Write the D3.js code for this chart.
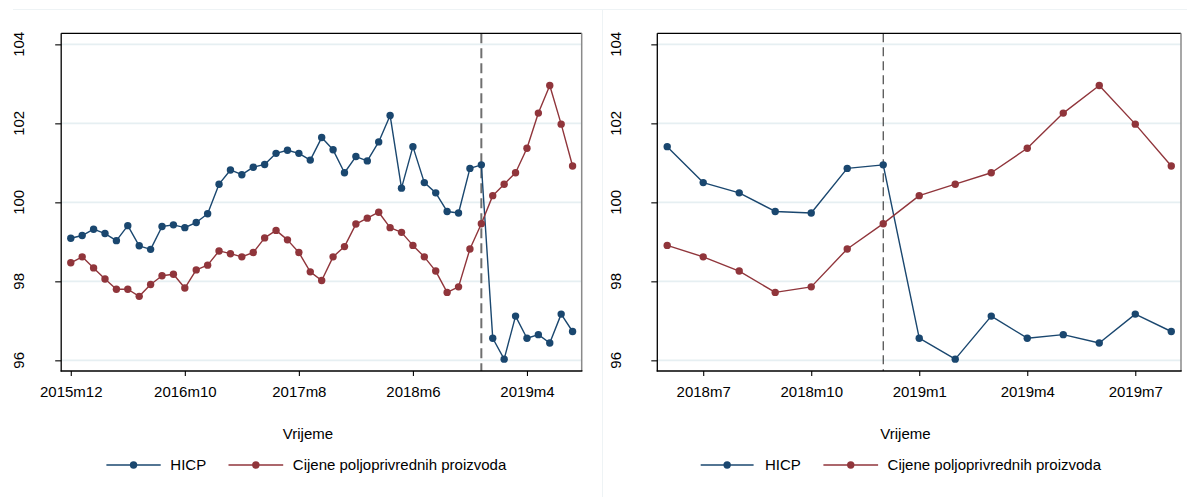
<!DOCTYPE html>
<html>
<head>
<meta charset="utf-8">
<script src="https://cdn.jsdelivr.net/npm/d3@7"></script>
<style>
  html, body { margin: 0; padding: 0; background: #ffffff; }
  svg { display: block; font-family: "Liberation Sans", Arial, Helvetica, sans-serif; }
</style>
</head>
<body>
<svg id="chart" width="1187" height="497"></svg>
<script>
// Monthly observations, 2015m12 – 2019m8
const months = [
  "2015m12",
  "2016m1","2016m2","2016m3","2016m4","2016m5","2016m6","2016m7","2016m8","2016m9","2016m10","2016m11","2016m12",
  "2017m1","2017m2","2017m3","2017m4","2017m5","2017m6","2017m7","2017m8","2017m9","2017m10","2017m11","2017m12",
  "2018m1","2018m2","2018m3","2018m4","2018m5","2018m6","2018m7","2018m8","2018m9","2018m10","2018m11","2018m12",
  "2019m1","2019m2","2019m3","2019m4","2019m5","2019m6","2019m7","2019m8"
];

// HICP index
const hicp = [
  99.09,
  99.16, 99.32, 99.21, 99.03, 99.41, 98.90, 98.81, 99.39, 99.43, 99.36, 99.49, 99.71,
  100.46, 100.82, 100.70, 100.89, 100.96, 101.24, 101.32, 101.24, 101.07, 101.64, 101.33, 100.75,
  101.16, 101.05, 101.53, 102.20, 100.36, 101.41, 100.50, 100.24, 99.77, 99.73, 100.86, 100.95,
  96.56, 96.03, 97.12, 96.56, 96.65, 96.44, 97.17, 96.73
];

// Agricultural producer prices index
const agri = [
  98.47,
  98.62, 98.34, 98.06, 97.80, 97.80, 97.62, 97.92, 98.14, 98.18, 97.83, 98.29, 98.41,
  98.77, 98.70, 98.62, 98.73, 99.10, 99.29, 99.05, 98.73, 98.24, 98.02, 98.62, 98.88,
  99.45, 99.60, 99.75, 99.36, 99.24, 98.91, 98.62, 98.26, 97.72, 97.86, 98.82, 99.46,
  100.17, 100.46, 100.75, 101.37, 102.26, 102.96, 101.98, 100.92
];

const seriesNames = ["HICP", "Cijene poljoprivrednih proizvoda"];
const seriesColors = ["#1a476f", "#90353b"];

const yTicks = [96, 98, 100, 102, 104];
const leftTicks = ["2015m12", "2016m10", "2017m8", "2018m6", "2019m4"];
const rightTicks = ["2018m7", "2018m10", "2019m1", "2019m4", "2019m7"];
const breakMonth = "2018m12";
const detailStart = "2018m6";
const axisTitle = "Vrijeme";

const svg = d3.select("#chart");
const FONT = 15;

// faint outlines of the two sub-graphs
svg.append("line").attr("x1", 13).attr("x2", 1187).attr("y1", 9.5).attr("y2", 9.5)
  .attr("stroke", "#eef3f5").attr("stroke-width", 1);
svg.append("line").attr("x1", 602.5).attr("x2", 602.5).attr("y1", 9.5).attr("y2", 497)
  .attr("stroke", "#eef3f5").attr("stroke-width", 1);

const y = d3.scaleLinear().domain([95.73, 104.28]).range([371, 33.3]);

function panel(cfg) {
  const startIdx = months.indexOf(cfg.start);
  const idx = d3.range(startIdx, months.length);
  const x = d3.scaleLinear().domain(cfg.domain).range([cfg.left, cfg.right]);
  const g = svg.append("g");

  // horizontal grid
  g.append("g").selectAll("line").data(yTicks).join("line")
    .attr("x1", cfg.left).attr("x2", cfg.right)
    .attr("y1", d => y(d)).attr("y2", d => y(d))
    .attr("stroke", "#e6eff2").attr("stroke-width", 1.6);

  // vertical reference line
  const bx = x(months.indexOf(breakMonth));
  g.append("line")
    .attr("x1", bx).attr("x2", bx).attr("y1", 33.3).attr("y2", 371)
    .attr("stroke", cfg.refColor).attr("stroke-width", cfg.refWidth)
    .attr("stroke-dasharray", cfg.refDash);

  // y axis ticks
  const yAxis = g.append("g").attr("transform", `translate(${cfg.left},0)`)
    .call(d3.axisLeft(y).tickValues(yTicks).tickSize(6).tickFormat(""));
  yAxis.select(".domain").remove();
  yAxis.selectAll(".tick line").attr("stroke", "#000").attr("stroke-width", 1.1);

  // y tick labels (rotated)
  g.append("g").selectAll("text").data(yTicks).join("text")
    .attr("transform", d => `translate(${cfg.yLabelX},${y(d)}) rotate(-90)`)
    .attr("text-anchor", "middle")
    .attr("font-size", FONT).attr("fill", "#000")
    .text(d => d);

  // x axis
  const xAxis = g.append("g").attr("transform", "translate(0,371)")
    .call(d3.axisBottom(x).tickValues(cfg.ticks.map(t => months.indexOf(t)))
      .tickSize(5).tickFormat(i => months[i]));
  xAxis.select(".domain").remove();
  xAxis.selectAll(".tick line").attr("stroke", "#000").attr("stroke-width", 1.1);
  xAxis.selectAll(".tick text")
    .attr("y", 26).attr("dy", 0)
    .attr("font-size", FONT).attr("fill", "#000")
    .attr("font-family", "Liberation Sans, Arial, sans-serif");

  // plot frame
  g.append("line").attr("x1", cfg.left).attr("x2", cfg.right).attr("y1", 33.3).attr("y2", 33.3)
    .attr("stroke", "#000").attr("stroke-width", 1.3);
  g.append("line").attr("x1", cfg.right).attr("x2", cfg.right).attr("y1", 33.3).attr("y2", 371)
    .attr("stroke", "#8a8a8a").attr("stroke-width", 1.5);
  g.append("line").attr("x1", cfg.left).attr("x2", cfg.left).attr("y1", 33.3).attr("y2", 371.6)
    .attr("stroke", "#000").attr("stroke-width", 1.3);
  g.append("line").attr("x1", cfg.left - 0.6).attr("x2", cfg.right + 0.7).attr("y1", 371).attr("y2", 371)
    .attr("stroke", "#000").attr("stroke-width", 1.3);

  // series
  [hicp, agri].forEach((vals, s) => {
    const line = d3.line().x(i => x(i)).y(i => y(vals[i]));
    g.append("path").datum(idx).attr("d", line)
      .attr("fill", "none").attr("stroke", seriesColors[s]).attr("stroke-width", 1.4)
      .attr("stroke-linejoin", "round");
    g.append("g").selectAll("circle").data(idx).join("circle")
      .attr("cx", i => x(i)).attr("cy", i => y(vals[i])).attr("r", 3.7)
      .attr("fill", seriesColors[s]);
  });

  // axis title
  g.append("text").attr("x", cfg.titleX).attr("y", 438.5)
    .attr("text-anchor", "middle").attr("font-size", FONT).attr("fill", "#000")
    .text(axisTitle);

  // legend
  const lg = g.append("g");
  cfg.legend.forEach((L, s) => {
    lg.append("line").attr("x1", L.x1).attr("x2", L.x2).attr("y1", 465).attr("y2", 465)
      .attr("stroke", seriesColors[s]).attr("stroke-width", 1.4);
    lg.append("circle").attr("cx", (L.x1 + L.x2) / 2).attr("cy", 465).attr("r", 3.7)
      .attr("fill", seriesColors[s]);
    lg.append("text").attr("x", L.tx).attr("y", 470.4)
      .attr("font-size", FONT).attr("fill", "#000")
      .text(seriesNames[s]);
  });
}

panel({
  start: months[0],
  domain: [-0.84, 44.8],
  left: 61.2, right: 581.7,
  yLabelX: 24.4,
  ticks: leftTicks,
  refColor: "#6f6f6f", refWidth: 2, refDash: "10,5",
  titleX: 308,
  legend: [{ x1: 106.4, x2: 160.7, tx: 170.3 }, { x1: 228.5, x2: 283.2, tx: 292.8 }]
});

panel({
  start: detailStart,
  domain: [29.725, 44.27],
  left: 657.3, right: 1181,
  yLabelX: 621.2,
  ticks: rightTicks,
  refColor: "#333333", refWidth: 1.1, refDash: "9,5",
  titleX: 905.5,
  legend: [{ x1: 700.7, x2: 753.6, tx: 764.9 }, { x1: 823.4, x2: 878.1, tx: 887.6 }]
});
</script>
</body>
</html>
